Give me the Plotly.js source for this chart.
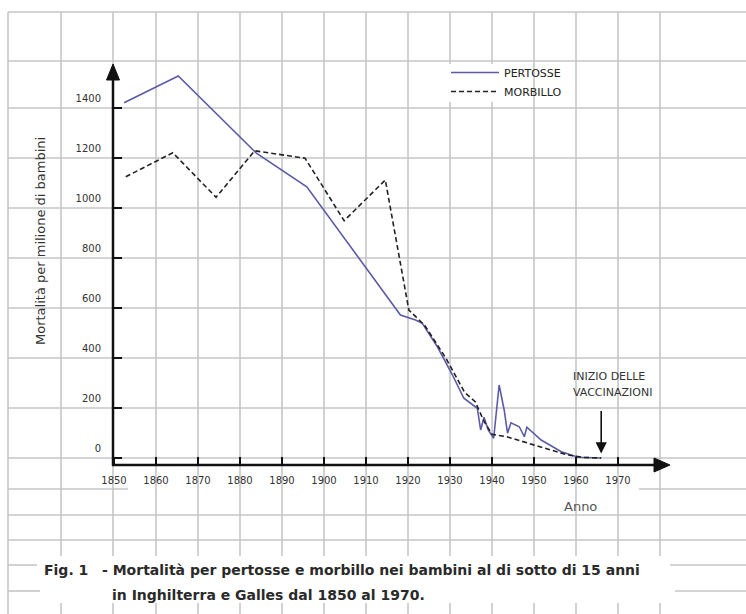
<!DOCTYPE html>
<html>
<head>
<meta charset="utf-8">
<script src="https://cdn.plot.ly/plotly-3.0.1.min.js"></script>
<style>
  html, body { margin: 0; padding: 0; background: #fff; }
  #chart { width: 746px; height: 614px; }
</style>
</head>
<body>
<div id="chart"></div>
<script>
// ---- data ----
const pertosseYears  = [1852.4, 1865.3, 1883.9, 1895.9, 1918.2, 1921.8, 1923.4, 1927.0, 1930.5, 1933.3, 1936.5, 1937.3, 1938.1, 1939.1, 1940.4, 1941.7, 1942.9, 1943.7, 1944.5, 1946.5, 1947.7, 1948.3, 1951.7, 1956.5, 1960.5, 1966.0];
const pertosseValues = [1421,   1528,   1219,   1085,   572,    552,    539,    445,    335,    239,    199,    112,    163,    112,    79,     292,    192,    99,     141,    125,    85,     123,    72,     25,     3,      0];

const morbilloYears  = [1852.8, 1864.0, 1874.3, 1883.5, 1895.5, 1904.8, 1914.6, 1920.2, 1924.0, 1929.0, 1933.5, 1936.0, 1938.0, 1940.0, 1943.5, 1952.5, 1958.0, 1962.0, 1966.0];
const morbilloValues = [1125,   1221,   1043,   1229,   1199,   949,    1112,   592,    530,    400,    262,    225,    150,    95,     85,     39,     12,     2,      0];

const xTickYears  = [1850, 1860, 1870, 1880, 1890, 1900, 1910, 1920, 1930, 1940, 1950, 1960, 1970];
const xTickLabels = ['1850', '1860', '1870', '1880', '1890', '1900', '1910', '1920', '1930', '1940', '1950', '1960', '1970'];
const yTickValues = [0, 200, 400, 600, 800, 1000, 1200, 1400];
const yTickLabels = ['0', '200', '400', '600', '800', '1000', '1200', '1400'];

const seriesNames = ['PERTOSSE', 'MORBILLO'];
const vaccinationYear = 1966;

// ---- page geometry helpers (decoration only) ----
const W = 746, H = 614;
const px = x => x / W;
const py = y => 1 - y / H;
const GRID = '#c6c6c6';

const shapes = [];
function hline(y, x0, x1) {
  shapes.push({type: 'line', xref: 'paper', yref: 'paper', layer: 'below',
    x0: px(x0), x1: px(x1), y0: py(y), y1: py(y), line: {color: GRID, width: 1.6}});
}
function vline(x, y0, y1) {
  shapes.push({type: 'line', xref: 'paper', yref: 'paper', layer: 'below',
    x0: px(x), x1: px(x), y0: py(y0), y1: py(y1), line: {color: GRID, width: 1.6}});
}
// graph-paper background
hline(12, 8, 746);
[61, 108, 158, 208, 258, 308, 358, 408, 458, 515, 540].forEach(y => hline(y, 8, 746));
hline(489, 8, 128); hline(489, 639, 746);
hline(565, 8, 37);  hline(565, 670, 746);
hline(591, 8, 40);  hline(591, 675, 746);
vline(8, 12, 614);
[61, 113, 156, 198, 240, 282, 324, 366, 408, 450, 492, 534, 576, 618, 660].forEach(x => {
  if (x === 450 || x === 492) { vline(x, 12, 64); vline(x, 102, 556); }
  else vline(x, 12, 556);
  vline(x, 603, 614);
});

// axis lines with arrowheads
shapes.push({type: 'line', xref: 'paper', yref: 'paper', x0: px(113), x1: px(113), y0: py(466), y1: py(78),
  line: {color: '#111', width: 2.5}});
shapes.push({type: 'line', xref: 'paper', yref: 'paper', x0: px(112), x1: px(656), y0: py(465), y1: py(465),
  line: {color: '#111', width: 2.5}});
shapes.push({type: 'path', xref: 'paper', yref: 'paper', fillcolor: '#111', line: {color: '#111', width: 1},
  path: `M${px(113)},${py(64)} L${px(106.5)},${py(80)} L${px(119.5)},${py(80)} Z`});
shapes.push({type: 'path', xref: 'paper', yref: 'paper', fillcolor: '#111', line: {color: '#111', width: 1},
  path: `M${px(670)},${py(465)} L${px(654)},${py(458)} L${px(654)},${py(472)} Z`});

const traces = [
  {x: pertosseYears, y: pertosseValues, name: seriesNames[0], type: 'scatter', mode: 'lines',
   line: {color: '#5b5ba8', width: 1.6}},
  {x: morbilloYears, y: morbilloValues, name: seriesNames[1], type: 'scatter', mode: 'lines',
   line: {color: '#222', width: 1.6, dash: '5px,3px'}}
];

const capFont = {family: 'DejaVu Sans', size: 14, color: '#2a2a2a', weight: 'bold'};
const annotations = [
  {xref: 'paper', yref: 'paper', x: px(41), y: py(241), xanchor: 'center', yanchor: 'middle',
   text: 'Mortalità per milione di bambini', textangle: -90, showarrow: false,
   font: {family: 'DejaVu Sans', size: 13, color: '#333'}},
  {xref: 'paper', yref: 'paper', x: px(580), y: py(506), xanchor: 'center', yanchor: 'middle',
   text: 'Anno', showarrow: false, font: {family: 'DejaVu Sans', size: 13, color: '#555'}},
  {xref: 'paper', yref: 'paper', x: px(571), y: py(376), xanchor: 'left', yanchor: 'middle',
   text: 'INIZIO DELLE', showarrow: false, font: {family: 'DejaVu Sans', size: 11, color: '#333'}},
  {xref: 'paper', yref: 'paper', x: px(571), y: py(393), xanchor: 'left', yanchor: 'middle',
   text: 'VACCINAZIONI', showarrow: false, font: {family: 'DejaVu Sans', size: 11, color: '#333'}},
  {xref: 'x', yref: 'y', x: vaccinationYear, y: 18, ax: 0, ay: -44, text: '', showarrow: true,
   arrowhead: 2, arrowsize: 1.4, arrowwidth: 1.6, arrowcolor: '#111'},
  {xref: 'paper', yref: 'paper', x: px(42), y: py(570), xanchor: 'left', yanchor: 'middle',
   text: 'Fig. 1', showarrow: false, font: capFont},
  {xref: 'paper', yref: 'paper', x: px(100), y: py(570), xanchor: 'left', yanchor: 'middle',
   text: '- Mortalità per pertosse e morbillo nei bambini al di sotto di 15 anni', showarrow: false,
   font: capFont},
  {xref: 'paper', yref: 'paper', x: px(110), y: py(595), xanchor: 'left', yanchor: 'middle',
   text: 'in Inghilterra e Galles dal 1850 al 1970.', showarrow: false, font: capFont}
];

const layout = {
  width: W, height: H,
  margin: {l: 0, r: 0, t: 0, b: 0, pad: 0},
  paper_bgcolor: '#fff', plot_bgcolor: '#fff',
  showlegend: true,
  legend: {x: px(446), y: py(58), xanchor: 'left', yanchor: 'top', bgcolor: 'rgba(0,0,0,0)',
    font: {family: 'DejaVu Sans', size: 11, color: '#222'}, itemwidth: 48, tracegroupgap: 0},
  xaxis: {range: [1850 - 114 / 4.2, 1850 + 632 / 4.2], domain: [0, 1], anchor: 'free', position: py(465),
    showgrid: false, zeroline: false, showline: false, ticks: 'inside', ticklen: 8, tickwidth: 1.5,
    tickcolor: '#111', tickmode: 'array', tickvals: xTickYears, ticktext: xTickLabels,
    tickfont: {family: 'DejaVu Sans', size: 10, color: '#333'}, ticklabelstandoff: 8, fixedrange: true},
  yaxis: {range: [(458 - 614) / 0.25, 458 / 0.25], domain: [0, 1], anchor: 'free', position: px(113),
    side: 'left', showgrid: false, zeroline: false, showline: false, ticks: 'inside', ticklen: 8, tickwidth: 1.5,
    tickcolor: '#111', tickmode: 'array', tickvals: yTickValues, ticktext: yTickLabels,
    tickfont: {family: 'DejaVu Sans', size: 10, color: '#333'}, ticklabelshift: -10, ticklabelstandoff: 12,
    fixedrange: true},
  shapes: shapes,
  annotations: annotations
};

Plotly.newPlot('chart', traces, layout, {displayModeBar: false, staticPlot: true});
</script>
</body>
</html>
